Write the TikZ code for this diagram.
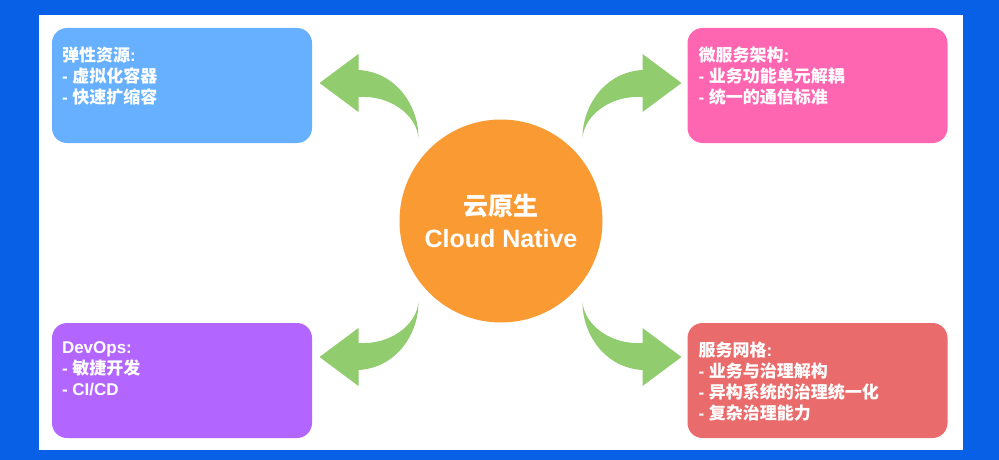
\documentclass[tikz,border=0pt]{standalone}
\usepackage{fontspec}
\setmainfont{Liberation Sans}
\newfontfamily\cjk{Noto Sans CJK SC}
\usetikzlibrary{positioning}
\definecolor{frameblue}{HTML}{0860E6}
\definecolor{elasticblue}{HTML}{66B0FF}
\definecolor{micropink}{HTML}{FF66B2}
\definecolor{devpurple}{HTML}{B266FF}
\definecolor{meshred}{HTML}{EA6B6B}
\definecolor{coreorange}{HTML}{FA9A33}
\definecolor{arrowgreen}{HTML}{91CC6E}
\tikzset{
  card/.style={rounded corners=15pt, minimum width=260pt, minimum height=115pt, inner sep=0pt},
  cardtext/.style={anchor=north west, align=left, text=white, inner sep=0pt,
    font=\fontsize{17}{21}\selectfont\bfseries},
  swoosh/.pic={
    \fill[arrowgreen] (-181,-137) -- (-142,-166) -- (-142,-150)
      .. controls (-105,-148) and (-82,-115) .. (-82,-82)
      .. controls (-84,-105) and (-110,-125) .. (-142,-123)
      -- (-142,-108) -- cycle;
  }
}
\begin{document}
\begin{tikzpicture}[x=1pt, y=-1pt]
% frame
\fill[frameblue] (0,0) rectangle (999,460);
\fill[white] (39,15) rectangle (963,450);
% core
\node[circle, fill=coreorange, minimum size=203pt, inner sep=0pt, align=center, text=white,
  font=\fontsize{25}{32}\selectfont\bfseries] (core) at (501,221) {{\cjk 云原生}\\Cloud Native};
% cards
\node[card, fill=elasticblue] (elastic) at (182,85.5) {};
\node[card, fill=micropink] (micro) at (817.5,85.5) {};
\node[card, fill=devpurple] (devops) at (182,380.5) {};
\node[card, fill=meshred] (mesh) at (817.5,380.5) {};
\node[cardtext] (elastic-text) at ([shift={(10,19)}]elastic.north west)
  {{\cjk 弹性资源}:\\- {\cjk 虚拟化容器}\\- {\cjk 快速扩缩容}};
\node[cardtext] (micro-text) at ([shift={(11,19)}]micro.north west)
  {{\cjk 微服务架构}:\\- {\cjk 业务功能单元解耦}\\- {\cjk 统一的通信标准}};
\node[cardtext] (devops-text) at ([shift={(10,19)}]devops.north west)
  {DevOps:\\- {\cjk 敏捷开发}\\- CI/CD};
\node[cardtext] (mesh-text) at ([shift={(11,19)}]mesh.north west)
  {{\cjk 服务网格}:\\- {\cjk 业务与治理解构}\\- {\cjk 异构系统的治理统一化}\\- {\cjk 复杂治理能力}};
% arrows
\pic at (500.5,220) {swoosh};
\pic[xscale=-1] at (500.5,220) {swoosh};
\pic[yscale=-1] at (500.5,220) {swoosh};
\pic[xscale=-1, yscale=-1] at (500.5,220) {swoosh};
\end{tikzpicture}
\end{document}
